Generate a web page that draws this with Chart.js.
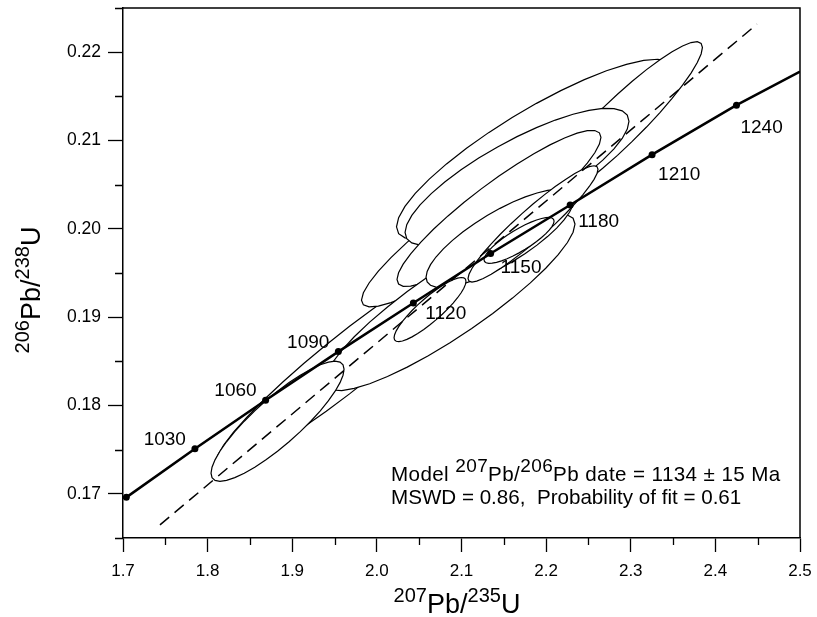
<!DOCTYPE html>
<html>
<head>
<meta charset="utf-8">
<script src="https://cdn.jsdelivr.net/npm/chart.js@4.4.0/dist/chart.umd.min.js"></script>
<style>
  html, body { margin: 0; padding: 0; background: #fff; }
  canvas { display: block; }
</style>
</head>
<body>
<canvas id="concordiaChart" width="817" height="617"></canvas>
<script>
// concordia points (207Pb/235U, 206Pb/238U) with their age labels
const concordiaX = [1.7039, 1.7850, 1.8685, 1.9545, 2.0431, 2.1344, 2.2284, 2.3252, 2.4249];
const concordiaY = [0.1696, 0.1751, 0.1806, 0.1861, 0.1916, 0.1972, 0.2027, 0.2084, 0.2140];
const ageLabels = ['', '1030', '1060', '1090', '1120', '1150', '1180', '1210', '1240'];
// the concordia runs on to the right edge of the plot
const concordiaEnd = [2.5, 0.2178];

// regression line (dashed) end points
const regressionX = [1.7437, 2.4492];
const regressionY = [0.16649, 0.22317];

// error ellipses, in drawing order: centre, half range in x and y, correlation
const ellipseX   = [1.9677, 2.1886, 2.2843, 2.1307, 2.1656, 2.1443, 2.0864, 2.1455, 2.1845, 2.1680, 2.0628, 1.8826];
const ellipseY   = [0.18514, 0.20900, 0.21178, 0.20158, 0.20588, 0.20231, 0.19166, 0.19891, 0.20056, 0.19869, 0.19086, 0.17822];
const ellipseSX  = [0.1583, 0.1654, 0.1004, 0.1489, 0.1323, 0.1205, 0.1477, 0.0874, 0.0768, 0.0414, 0.0425, 0.0786];
const ellipseSY  = [0.01224, 0.01020, 0.00941, 0.01043, 0.00777, 0.00884, 0.00998, 0.00556, 0.00658, 0.0026, 0.00363, 0.00680];
const ellipseRho = [0.95, 0.86, 0.93, 0.925, 0.81, 0.91, 0.89, 0.79, 0.94, 0.84, 0.88, 0.866];

const noteLine2 = 'MSWD = 0.86,  Probability of fit = 0.61';

const FONT = "'Liberation Sans', Arial, sans-serif";

function isMultiple(v, step) {
    const r = v / step;
    return Math.abs(r - Math.round(r)) < 1e-6;
}

// draw text made of [string, isSuperscript] parts, return width
function drawParts(ctx, parts, x, y, size, supSize, rise, measureOnly) {
    let cx = x;
    parts.forEach(p => {
        ctx.font = (p[1] ? supSize : size) + 'px ' + FONT;
        const w = ctx.measureText(p[0]).width;
        if (!measureOnly) ctx.fillText(p[0], cx, p[1] ? y - rise : y);
        cx += w;
    });
    return cx - x;
}

const ellipsePlugin = {
    id: 'ellipses',
    beforeDatasetsDraw(chart) {
        const ctx = chart.ctx;
        const xs = chart.scales.x, ys = chart.scales.y;
        const area = chart.chartArea;
        ctx.save();
        ctx.beginPath();
        ctx.rect(area.left, area.top, area.right - area.left, area.bottom - area.top);
        ctx.clip();
        ctx.lineWidth = 1.2;
        ctx.strokeStyle = '#000';
        ctx.fillStyle = '#fff';
        for (let i = 0; i < ellipseX.length; i++) {
            const q = Math.sqrt(1 - ellipseRho[i] * ellipseRho[i]);
            ctx.beginPath();
            for (let k = 0; k <= 36; k++) {
                const t = 2 * Math.PI * k / 36;
                const px = xs.getPixelForValue(ellipseX[i] + ellipseSX[i] * Math.cos(t));
                const py = ys.getPixelForValue(ellipseY[i] + ellipseSY[i] * (ellipseRho[i] * Math.cos(t) + q * Math.sin(t)));
                if (k === 0) ctx.moveTo(px, py); else ctx.lineTo(px, py);
            }
            ctx.closePath();
            ctx.fill();
            ctx.stroke();
        }
        ctx.restore();
    },
    afterDatasetsDraw(chart) {
        const ctx = chart.ctx;
        const xs = chart.scales.x, ys = chart.scales.y;
        ctx.save();
        ctx.fillStyle = '#000';
        ctx.font = '19px ' + FONT;
        ctx.textBaseline = 'alphabetic';
        concordiaX.forEach((v, i) => {
            if (!ageLabels[i]) return;
            const px = xs.getPixelForValue(v);
            const py = ys.getPixelForValue(concordiaY[i]);
            if (i < 4) {
                // younger ages sit above-left of their point
                ctx.textAlign = 'right';
                ctx.fillText(ageLabels[i], px - 9, py - 4);
            } else {
                // older ages sit below-right, drifting further off the curve
                ctx.textAlign = 'left';
                ctx.fillText(ageLabels[i], px + 12 - (i - 4) * 2, py + 16 + (i - 4) * 3);
            }
        });
        ctx.restore();
    },
    afterDraw(chart) {
        const ctx = chart.ctx;
        const xs = chart.scales.x, ys = chart.scales.y;
        const area = chart.chartArea;
        ctx.save();
        ctx.strokeStyle = '#000';
        // frame top and right
        ctx.lineWidth = 1.5;
        ctx.beginPath();
        ctx.moveTo(area.left, area.top);
        ctx.lineTo(area.right, area.top);
        ctx.lineTo(area.right, area.bottom);
        ctx.stroke();
        // minor ticks
        ctx.lineWidth = 1.3;
        ctx.beginPath();
        xs.ticks.forEach(t => {
            if (!isMultiple(t.value, 0.1)) {
                const px = Math.round(xs.getPixelForValue(t.value)) + 0.5;
                ctx.moveTo(px, area.bottom);
                ctx.lineTo(px, area.bottom + 7);
            }
        });
        ys.ticks.forEach(t => {
            if (!isMultiple(t.value, 0.01)) {
                const py = Math.round(ys.getPixelForValue(t.value)) + 0.5;
                ctx.moveTo(area.left, py);
                ctx.lineTo(area.left - 8, py);
            }
        });
        ctx.stroke();

        // axis titles
        ctx.fillStyle = '#000';
        ctx.textAlign = 'left';
        ctx.textBaseline = 'alphabetic';
        const xTitle = [['207', true], ['Pb/', false], ['235', true], ['U', false]];
        const xw = drawParts(ctx, xTitle, 0, 0, 27, 20, 11, true);
        drawParts(ctx, xTitle, 457 - xw / 2, 613, 27, 20, 11, false);

        const yTitle = [['206', true], ['Pb/', false], ['238', true], ['U', false]];
        const yw = drawParts(ctx, yTitle, 0, 0, 27, 20, 11, true);
        ctx.save();
        ctx.translate(40, 290);
        ctx.rotate(-Math.PI / 2);
        drawParts(ctx, yTitle, -yw / 2, 0, 27, 20, 11, false);
        ctx.restore();

        // fit summary
        const line1 = [['Model ', false], ['207', true], ['Pb/', false], ['206', true], ['Pb date = 1134 \u00b1 15 Ma', false]];
        ctx.letterSpacing = '0.4px';
        drawParts(ctx, line1, 391, 481, 20.6, 19, 9, false);
        ctx.letterSpacing = '0px';
        ctx.font = '20.6px ' + FONT;
        ctx.fillText(noteLine2, 391, 504);
        ctx.restore();
    }
};

// keep tick labels from pushing the plot area around
function fixPadding(scale) {
    scale.paddingTop = 0;
    scale.paddingBottom = 0;
    scale.paddingLeft = 0;
    scale.paddingRight = 0;
}

const ctx = document.getElementById('concordiaChart').getContext('2d');

const concordiaPoints = concordiaX.map((v, i) => ({ x: v, y: concordiaY[i] }));
concordiaPoints.push({ x: concordiaEnd[0], y: concordiaEnd[1] });

window.myChart = new Chart(ctx, {
    type: 'scatter',
    data: {
        datasets: [{
            label: 'regression',
            data: regressionX.map((v, i) => ({ x: v, y: regressionY[i] })),
            showLine: true,
            borderColor: '#000',
            borderWidth: 1.5,
            borderDash: [12, 7],
            pointRadius: 0
        }, {
            label: 'concordia',
            data: concordiaPoints,
            showLine: true,
            borderColor: '#000',
            borderWidth: 2.5,
            backgroundColor: '#000',
            pointBackgroundColor: '#000',
            pointBorderWidth: 0,
            pointRadius: c => (c.dataIndex < concordiaX.length ? 3.5 : 0)
        }]
    },
    options: {
        responsive: false,
        animation: false,
        layout: { padding: { top: 8, right: 17, left: 0, bottom: 0 } },
        plugins: {
            legend: { display: false },
            tooltip: { enabled: false }
        },
        scales: {
            x: {
                type: 'linear',
                min: 1.7,
                max: 2.5,
                afterFit: scale => { scale.height = 79; fixPadding(scale); },
                border: { color: '#000', width: 1.5 },
                grid: {
                    drawOnChartArea: false,
                    tickLength: 14,
                    tickWidth: 1.3,
                    tickColor: c => (isMultiple(c.tick.value, 0.1) ? '#000' : 'rgba(0,0,0,0)')
                },
                ticks: {
                    stepSize: 0.05,
                    autoSkip: false,
                    maxRotation: 0,
                    padding: 9,
                    color: '#000',
                    font: { family: FONT, size: 17 },
                    callback: v => (isMultiple(v, 0.1) ? v.toFixed(1) : '')
                }
            },
            y: {
                type: 'linear',
                min: 0.165,
                max: 0.225,
                afterFit: scale => { scale.width = 123; fixPadding(scale); },
                border: { color: '#000', width: 1.5 },
                grid: {
                    drawOnChartArea: false,
                    tickLength: 15,
                    tickWidth: 1.3,
                    tickColor: c => (isMultiple(c.tick.value, 0.01) ? '#000' : 'rgba(0,0,0,0)')
                },
                ticks: {
                    stepSize: 0.005,
                    autoSkip: false,
                    padding: 7,
                    color: '#000',
                    font: { family: FONT, size: 17.5 },
                    callback: v => (isMultiple(v, 0.01) ? v.toFixed(2) : '')
                }
            }
        }
    },
    plugins: [ellipsePlugin]
});
</script>
</body>
</html>
